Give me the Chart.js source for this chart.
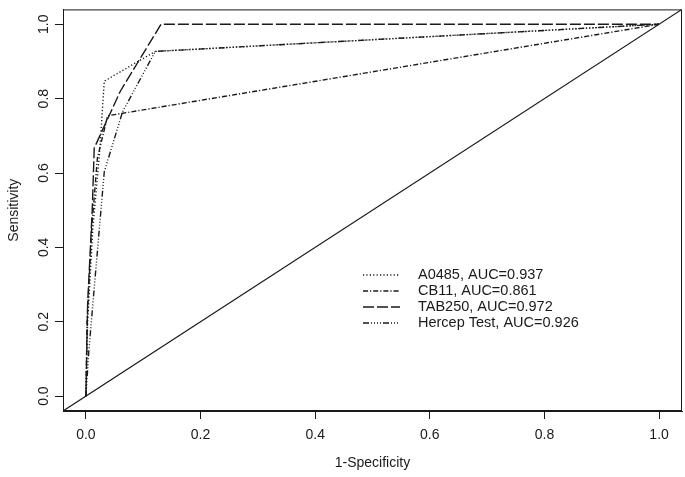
<!DOCTYPE html>
<html>
<head>
<meta charset="utf-8">
<script src="https://cdn.jsdelivr.net/npm/chart.js@4.4.1/dist/chart.umd.min.js"></script>
<style>
    html, body { margin: 0; padding: 0; background: #fff; }
    #wrap { width: 685px; height: 477px; position: relative; }
</style>
</head>
<body>
<div id="wrap"><canvas id="rocChart"></canvas></div>
<script>
// Datos (1-Especificidad, Sensibilidad)
const a0485X = [0, 0.003, 0.012, 0.024, 0.032, 0.121, 1];
const a0485Y = [0, 0.20, 0.45, 0.657, 0.847, 0.927, 1];

const cb11X = [0, 0.002, 0.010, 0.020, 0.038, 1];
const cb11Y = [0, 0.20, 0.45, 0.64, 0.754, 1];

const tab250X = [0, 0.003, 0.011, 0.0145, 0.060, 0.131, 1];
const tab250Y = [0, 0.25, 0.50, 0.667, 0.82, 1, 1];

const hercepX = [0, 0.005, 0.015, 0.032, 0.064, 0.121, 1];
const hercepY = [0, 0.12, 0.30, 0.603, 0.765, 0.927, 1];

const seriesLabels = ['A0485, AUC=0.937', 'CB11, AUC=0.861', 'TAB250, AUC=0.972', 'Hercep Test, AUC=0.926'];
const tickValues = [0, 0.2, 0.4, 0.6, 0.8, 1.0];
const axisMin = -0.04;
const axisMax = 1.04;

const FONT = "'Liberation Sans', Arial, Helvetica, sans-serif";
const INK = '#1a1a1a';

function toPoints(xs, ys) {
    return xs.map((x, i) => ({ x: x, y: ys[i] }));
}

function curve(label, xs, ys, dash) {
    return {
        label: label,
        data: toPoints(xs, ys),
        borderColor: INK,
        borderWidth: 1.4,
        borderDash: dash,
        pointRadius: 0,
        tension: 0,
        fill: false
    };
}

// Caja alrededor del área y leyenda interna al estilo R
const boxAndLegend = {
    id: 'boxAndLegend',
    afterDatasetsDraw(chart) {
        const { ctx, chartArea } = chart;
        ctx.save();
        ctx.strokeStyle = INK;
        ctx.lineWidth = 1;
        ctx.setLineDash([]);
        ctx.strokeRect(chartArea.left + 0.5, chartArea.top + 0.5,
            chartArea.right - chartArea.left - 1, chartArea.bottom - chartArea.top - 1);

        // Leyenda
        const rows = [275, 291, 307, 323];
        ctx.font = '14.5px ' + FONT;
        ctx.fillStyle = INK;
        ctx.textBaseline = 'middle';
        ctx.textAlign = 'left';
        chart.data.datasets.slice(0, 4).forEach((ds, i) => {
            ctx.beginPath();
            ctx.setLineDash(ds.borderDash);
            ctx.lineWidth = 1.4;
            ctx.moveTo(363, rows[i]);
            ctx.lineTo(400, rows[i]);
            ctx.stroke();
            ctx.setLineDash([]);
            ctx.fillText(ds.label, 418, rows[i]);
        });
        ctx.restore();
    }
};

const ctx = document.getElementById('rocChart').getContext('2d');

new Chart(ctx, {
    type: 'line',
    data: {
        datasets: [
            curve(seriesLabels[0], a0485X, a0485Y, [1.2, 2.2]),
            curve(seriesLabels[1], cb11X, cb11Y, [5, 2, 1.2, 2]),
            curve(seriesLabels[2], tab250X, tab250Y, [11, 3]),
            curve(seriesLabels[3], hercepX, hercepY, [6, 2, 1, 2, 1, 2, 1, 2, 1, 2]),
            {
                label: 'diagonal',
                data: [{ x: axisMin, y: axisMin }, { x: axisMax, y: axisMax }],
                borderColor: INK,
                borderWidth: 1.2,
                pointRadius: 0,
                fill: false
            }
        ]
    },
    options: {
        responsive: true,
        maintainAspectRatio: false,
        animation: false,
        layout: { padding: { top: 5, right: 3, left: 0, bottom: 0 } },
        plugins: {
            legend: { display: false },
            tooltip: { enabled: false }
        },
        scales: {
            x: {
                type: 'linear',
                min: axisMin,
                max: axisMax,
                afterBuildTicks: (scale) => { scale.ticks = tickValues.map(v => ({ value: v })); },
                afterFit: (scale) => { scale.height = 66; },
                grid: { display: true, drawOnChartArea: false, drawTicks: true, tickLength: 8, color: INK, lineWidth: 1 },
                border: { display: true, color: INK },
                ticks: {
                    color: INK,
                    padding: 8,
                    maxRotation: 0,
                    font: { family: FONT, size: 14 },
                    callback: (v) => v.toFixed(1)
                },
                title: {
                    display: true,
                    text: '1-Specificity',
                    color: INK,
                    font: { family: FONT, size: 14 },
                    padding: { top: 0, bottom: 5 }
                }
            },
            y: {
                type: 'linear',
                min: axisMin,
                max: axisMax,
                afterBuildTicks: (scale) => { scale.ticks = tickValues.map(v => ({ value: v })); },
                afterFit: (scale) => { scale.width = 63; },
                grid: { display: true, drawOnChartArea: false, drawTicks: true, tickLength: 8, color: INK, lineWidth: 1 },
                border: { display: true, color: INK },
                ticks: {
                    color: INK,
                    padding: 1,
                    minRotation: 90,
                    maxRotation: 90,
                    crossAlign: 'center',
                    font: { family: FONT, size: 14 },
                    callback: (v) => v.toFixed(1)
                },
                title: {
                    display: true,
                    text: 'Sensitivity',
                    color: INK,
                    font: { family: FONT, size: 14 },
                    padding: { top: 6, bottom: 0 }
                }
            }
        }
    },
    plugins: [boxAndLegend]
});
</script>
</body>
</html>
